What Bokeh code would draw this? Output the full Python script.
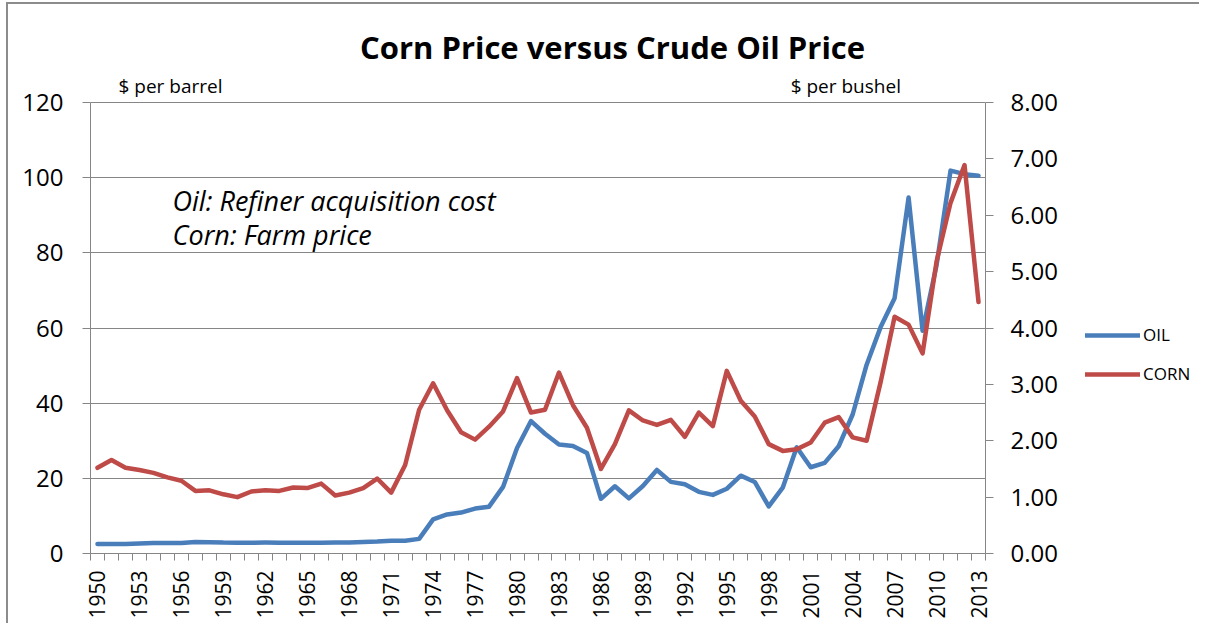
from bokeh.plotting import figure
from bokeh.layouts import row
from bokeh.models import (Range1d, LinearAxis, FixedTicker, Legend, LegendItem,
                          Label, NumeralTickFormatter)
from bokeh.embed import file_html
from bokeh.resources import INLINE

years = list(range(1950, 2014))
oil = [2.51, 2.53, 2.53, 2.68, 2.78, 2.77, 2.79, 3.09, 3.01, 2.90,
       2.88, 2.89, 2.90, 2.89, 2.88, 2.86, 2.88, 2.92, 2.94, 3.09,
       3.18, 3.39, 3.39, 3.89, 9.07, 10.38, 10.89, 11.96, 12.46, 17.72,
       28.07, 35.24, 31.87, 28.99, 28.63, 26.75, 14.55, 17.90, 14.67, 17.97,
       22.22, 19.06, 18.43, 16.41, 15.59, 17.23, 20.71, 19.04, 12.52, 17.51,
       28.26, 22.95, 24.10, 28.53, 36.98, 50.24, 60.24, 67.94, 94.74, 59.29,
       76.69, 101.87, 100.93, 100.49]
corn = [1.52, 1.66, 1.52, 1.48, 1.43, 1.35, 1.29, 1.11, 1.12, 1.05,
        1.00, 1.10, 1.12, 1.11, 1.17, 1.16, 1.24, 1.03, 1.08, 1.16,
        1.33, 1.08, 1.57, 2.55, 3.02, 2.54, 2.15, 2.02, 2.25, 2.52,
        3.11, 2.50, 2.55, 3.21, 2.63, 2.23, 1.50, 1.94, 2.54, 2.36,
        2.28, 2.37, 2.07, 2.50, 2.26, 3.24, 2.71, 2.43, 1.94, 1.82,
        1.85, 1.97, 2.32, 2.42, 2.06, 2.00, 3.04, 4.20, 4.06, 3.55,
        5.18, 6.22, 6.89, 4.46]
oil_ticks = [0, 20, 40, 60, 80, 100, 120]
corn_ticks = [0, 1, 2, 3, 4, 5, 6, 7, 8]
year_labels = list(range(1950, 2014, 3))
series_names = ["OIL", "CORN"]

FONT = "Open Sans"
GRAY = "#868686"
BORDER = "#8c8c8c"
OIL_C = "#4a7ebb"
CORN_C = "#be4b48"

H = 623
W1 = 1075
W2 = 124
TOP = 20                      # frame top, px from figure top
BOTTOM = 553                  # frame bottom, px from figure top
PX = 451 / 120.0              # px per oil unit
ymax = 120 + (102 - TOP) / PX
cmax = ymax * 8 / 120.0

p = figure(width=W1, height=H, output_backend="svg", toolbar_location=None,
           x_range=Range1d(1949.5, 2013.5), y_range=Range1d(0, ymax),
           min_border_left=90, min_border_right=W1 - 985, min_border_top=TOP,
           min_border_bottom=H - BOTTOM, x_axis_location="below")
p.outline_line_color = None
p.background_fill_color = "white"
p.border_fill_color = None
p.styles = {"background": (f"linear-gradient({BORDER},{BORDER}) 7px 2px / 100% 2px no-repeat, "
                           f"linear-gradient({BORDER},{BORDER}) 6px 2px / 2px 100% no-repeat, white")}

p.extra_y_ranges = {"corn": Range1d(0, cmax)}

# x axis
xa = p.xaxis[0]
xa.ticker = FixedTicker(ticks=year_labels,
                        minor_ticks=[y - 0.5 for y in years] + [years[-1] + 0.5])
xa.major_tick_out = 0
xa.major_tick_in = 0
xa.minor_tick_out = 7
xa.minor_tick_in = 0
xa.minor_tick_line_color = GRAY
xa.axis_line_color = GRAY
xa.major_label_orientation = 1.5708
xa.major_label_text_font = FONT
xa.major_label_text_font_size = "21px"
xa.major_label_text_color = "black"
xa.major_label_standoff = 10
p.xgrid.visible = False

# left axis
ya = p.yaxis[0]
ya.ticker = FixedTicker(ticks=oil_ticks)
ya.bounds = (0, 120)
ya.major_tick_out = 8
ya.major_tick_in = 0
ya.minor_tick_out = 0
ya.minor_tick_in = 0
ya.major_tick_line_color = GRAY
ya.axis_line_color = GRAY
ya.major_label_text_font = FONT
ya.major_label_text_font_size = "24px"
ya.major_label_text_color = "black"
ya.major_label_standoff = 19
p.ygrid.ticker = FixedTicker(ticks=oil_ticks)
p.ygrid.grid_line_color = GRAY
p.ygrid.grid_line_width = 1

# right axis
ra = LinearAxis(y_range_name="corn", ticker=FixedTicker(ticks=corn_ticks),
                formatter=NumeralTickFormatter(format="0.00"), bounds=(0, 8))
ra.major_tick_out = 8
ra.major_tick_in = 0
ra.minor_tick_out = 0
ra.minor_tick_in = 0
ra.major_tick_line_color = GRAY
ra.axis_line_color = GRAY
ra.major_label_text_font = FONT
ra.major_label_text_font_size = "24px"
ra.major_label_text_color = "black"
ra.major_label_standoff = 17
p.add_layout(ra, "right")

p.line(years, oil, line_width=4.5, line_color=OIL_C,
       line_join="round", line_cap="round")
p.line(years, corn, line_width=4.5, line_color=CORN_C,
       line_join="round", line_cap="round", y_range_name="corn")

# title and texts
p.add_layout(Label(x=1986.83, y=120, y_offset=56, text="Corn Price versus Crude Oil Price",
                   text_font=FONT, text_font_size="31px", text_font_style="bold",
                   text_align="center", text_baseline="alphabetic", text_color="black"))
p.add_layout(Label(x=1951.5, y=120, y_offset=17, text="$ per barrel",
                   text_font=FONT, text_font_size="19px", text_align="left",
                   text_baseline="alphabetic", text_color="black"))
p.add_layout(Label(x=1999.57, y=120, y_offset=17, text="$ per bushel",
                   text_font=FONT, text_font_size="19px", text_align="left",
                   text_baseline="alphabetic", text_color="black"))
p.add_layout(Label(x=1955.37, y=93.9, text="Oil: Refiner acquisition cost",
                   text_font=FONT, text_font_size="27px", text_font_style="italic",
                   text_align="left", text_baseline="alphabetic", text_color="black"))
p.add_layout(Label(x=1955.37, y=84.9, text="Corn: Farm price",
                   text_font=FONT, text_font_size="27px", text_font_style="italic",
                   text_align="left", text_baseline="alphabetic", text_color="black"))

# legend panel (separate figure to the right of the corn axis); its lines lie
# outside its own ranges, so only their legend glyphs are visible
p2 = figure(width=W2, height=H, output_backend="svg", toolbar_location=None,
            x_axis_location=None, y_axis_location=None,
            x_range=Range1d(0, 1), y_range=Range1d(0, 1),
            min_border_left=0, min_border_right=0, min_border_top=0, min_border_bottom=0)
p2.outline_line_color = None
p2.grid.visible = False
p2.background_fill_color = None
p2.border_fill_color = None
p2.styles = {"background": f"linear-gradient({BORDER},{BORDER}) 0px 2px / 100% 2px no-repeat, white"}
l_oil = p2.line(years, oil, line_width=4.5, line_color=OIL_C, line_cap="round")
l_corn = p2.line(years, corn, line_width=4.5, line_color=CORN_C, line_cap="round")
legend = Legend(items=[LegendItem(label=series_names[0], renderers=[l_oil]),
                       LegendItem(label=series_names[1], renderers=[l_corn])],
                location=(10, BOTTOM - 385), orientation="vertical",
                glyph_width=55, glyph_height=20, label_height=20,
                spacing=16, padding=0, margin=0, label_standoff=3,
                label_text_font=FONT, label_text_font_size="17px",
                label_text_color="black",
                border_line_color=None, background_fill_alpha=0)
p2.add_layout(legend)

layout = row(p, p2, spacing=0)
open("out.html", "w").write(file_html(layout, INLINE))
